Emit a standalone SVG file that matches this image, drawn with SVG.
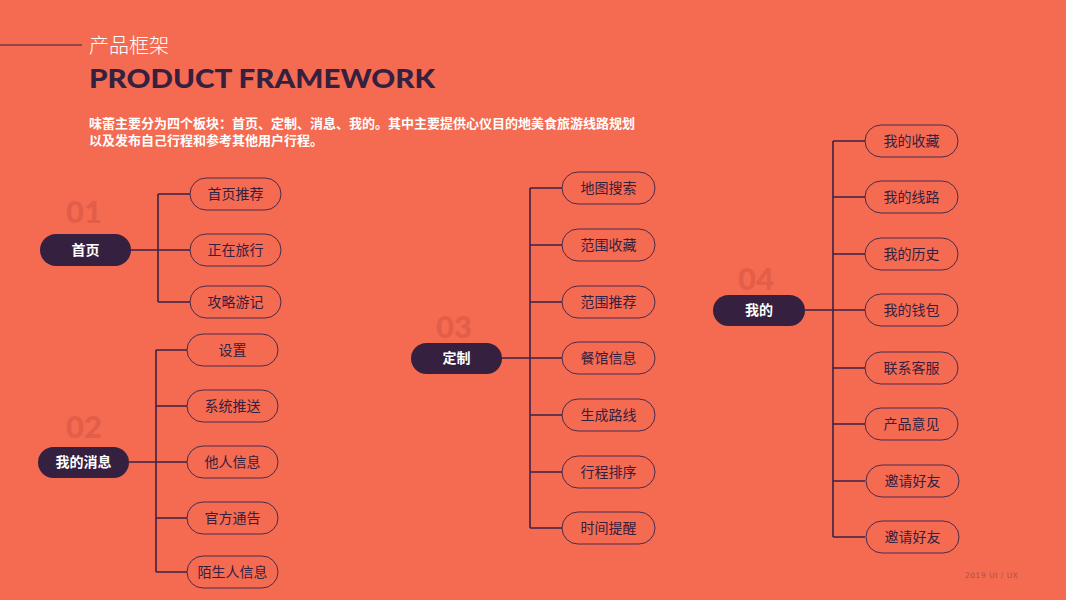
<svg xmlns="http://www.w3.org/2000/svg" width="1066" height="600" viewBox="0 0 1066 600">
<style>
.cjk{font-family:"Noto Sans CJK SC","Noto Sans",sans-serif}
.main rect{fill:#36203F}
.main text{fill:#FFFFFF;font-size:14px;font-weight:700;text-anchor:middle;font-family:"Noto Sans CJK SC",sans-serif}
.child rect{fill:none;stroke:#4A2A4C;stroke-width:1}
.child text{fill:#36203F;font-size:14px;text-anchor:middle;font-family:"Noto Sans CJK SC",sans-serif}
.num{fill:#E35E49;font-family:"Lato","DejaVu Sans",sans-serif;font-weight:900;font-size:31px}
#connectors path{fill:none;stroke:#3A2244;stroke-width:1.6}
</style>
<rect width="1066" height="600" fill="#F46B51"/>
<g id="header">
<line x1="0" y1="45" x2="82" y2="45" stroke="#36203F" stroke-width="1.2"/>
<text x="89" y="53" class="cjk" fill="#FFFFFF" font-size="20" font-weight="300">产品框架</text>
<text x="89" y="88" fill="#36203F" font-family="Lato, 'DejaVu Sans', sans-serif" font-weight="900" font-size="26" textLength="346" lengthAdjust="spacingAndGlyphs">PRODUCT FRAMEWORK</text>
<text x="89" y="128" class="cjk" fill="#FFFFFF" font-size="13" font-weight="700">味蕾主要分为四个板块：首页、定制、消息、我的。其中主要提供心仪目的地美食旅游线路规划</text>
<text x="89" y="145" class="cjk" fill="#FFFFFF" font-size="13" font-weight="700">以及发布自己行程和参考其他用户行程。</text>
</g>
<g id="numbers">
<text class="num" x="66" y="223">01</text>
<text class="num" x="66" y="438">02</text>
<text class="num" x="436" y="338">03</text>
<text class="num" x="738" y="290">04</text>
</g>
<g id="connectors">
<path d="M131 250H158M158 194V302M158 194H190M158 250H190M158 302H190"/>
<path d="M129 462H156M156 350V572M156 350H187M156 406H187M156 462H187M156 518H187M156 572H187"/>
<path d="M502 358H530M530 188V528M530 188H562M530 245H562M530 302H562M530 358H562M530 415H562M530 472H562M530 528H562"/>
<path d="M805 310H833M833 141V537M833 141H865M833 197H865M833 254H865M833 310H865M833 368H865M833 424H865M833 481H865M833 537H865"/>
</g>
<g id="n-shouye" class="main"><rect x="40" y="234" width="91" height="32" rx="16"/><text x="85.5" y="255">首页</text></g>
<g id="n-shouye-1" class="child"><rect x="190" y="178" width="91" height="32" rx="16"/><text x="235.5" y="199">首页推荐</text></g>
<g id="n-shouye-2" class="child"><rect x="190" y="234" width="91" height="32" rx="16"/><text x="235.5" y="255">正在旅行</text></g>
<g id="n-shouye-3" class="child"><rect x="190" y="286" width="91" height="32" rx="16"/><text x="235.5" y="307">攻略游记</text></g>

<g id="n-xiaoxi" class="main"><rect x="38" y="447" width="91" height="31" rx="15.5"/><text x="83.5" y="467">我的消息</text></g>
<g id="n-xiaoxi-1" class="child"><rect x="187" y="334" width="91" height="32" rx="16"/><text x="232.5" y="355">设置</text></g>
<g id="n-xiaoxi-2" class="child"><rect x="187" y="390" width="91" height="32" rx="16"/><text x="232.5" y="411">系统推送</text></g>
<g id="n-xiaoxi-3" class="child"><rect x="187" y="446" width="91" height="32" rx="16"/><text x="232.5" y="467">他人信息</text></g>
<g id="n-xiaoxi-4" class="child"><rect x="187" y="502" width="91" height="32" rx="16"/><text x="232.5" y="523">官方通告</text></g>
<g id="n-xiaoxi-5" class="child"><rect x="187" y="556" width="91" height="32" rx="16"/><text x="232.5" y="577">陌生人信息</text></g>

<g id="n-dingzhi" class="main"><rect x="411" y="343" width="91" height="31" rx="15.5"/><text x="456.5" y="363">定制</text></g>
<g id="n-dingzhi-1" class="child"><rect x="562" y="172" width="93" height="32" rx="16"/><text x="608.5" y="193">地图搜索</text></g>
<g id="n-dingzhi-2" class="child"><rect x="562" y="229" width="93" height="32" rx="16"/><text x="608.5" y="250">范围收藏</text></g>
<g id="n-dingzhi-3" class="child"><rect x="562" y="286" width="93" height="32" rx="16"/><text x="608.5" y="307">范围推荐</text></g>
<g id="n-dingzhi-4" class="child"><rect x="562" y="342" width="93" height="32" rx="16"/><text x="608.5" y="363">餐馆信息</text></g>
<g id="n-dingzhi-5" class="child"><rect x="562" y="399" width="93" height="32" rx="16"/><text x="608.5" y="420">生成路线</text></g>
<g id="n-dingzhi-6" class="child"><rect x="562" y="456" width="93" height="32" rx="16"/><text x="608.5" y="477">行程排序</text></g>
<g id="n-dingzhi-7" class="child"><rect x="562" y="512" width="93" height="32" rx="16"/><text x="608.5" y="533">时间提醒</text></g>

<g id="n-wode" class="main"><rect x="713" y="295" width="92" height="31" rx="15.5"/><text x="759" y="315">我的</text></g>
<g id="n-wode-1" class="child"><rect x="865" y="125" width="93" height="32" rx="16"/><text x="911.5" y="146">我的收藏</text></g>
<g id="n-wode-2" class="child"><rect x="865" y="181" width="93" height="32" rx="16"/><text x="911.5" y="202">我的线路</text></g>
<g id="n-wode-3" class="child"><rect x="865" y="238" width="93" height="32" rx="16"/><text x="911.5" y="259">我的历史</text></g>
<g id="n-wode-4" class="child"><rect x="865" y="294" width="93" height="32" rx="16"/><text x="911.5" y="315">我的钱包</text></g>
<g id="n-wode-5" class="child"><rect x="865" y="352" width="93" height="32" rx="16"/><text x="911.5" y="373">联系客服</text></g>
<g id="n-wode-6" class="child"><rect x="865" y="408" width="93" height="32" rx="16"/><text x="911.5" y="429">产品意见</text></g>
<g id="n-wode-7" class="child"><rect x="866" y="465" width="93" height="32" rx="16"/><text x="912.5" y="486">邀请好友</text></g>
<g id="n-wode-8" class="child"><rect x="866" y="521" width="93" height="32" rx="16"/><text x="912.5" y="542">邀请好友</text></g>
<text x="965" y="578" fill="#B14E44" font-family="'DejaVu Sans', sans-serif" font-size="7.5" textLength="53" lengthAdjust="spacing">2019 UI / UX</text>
</svg>
